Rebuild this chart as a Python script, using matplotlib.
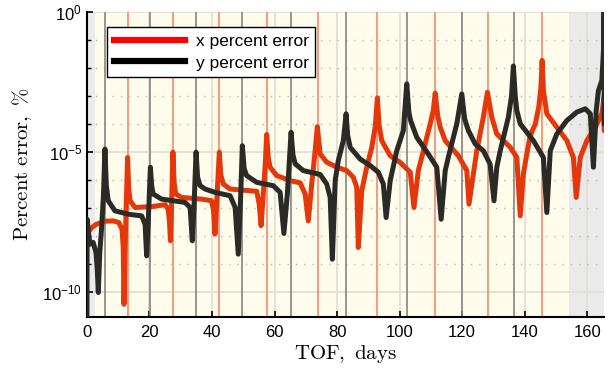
import numpy as np
import matplotlib.pyplot as plt
from matplotlib.lines import Line2D
from matplotlib.ticker import FixedLocator, LogFormatterSciNotation

plt.rcParams['font.family'] = ['Liberation Sans', 'DejaVu Sans']

# x percent error: TOF in days, log10 of the error
x_err_t = [0.2, 1.5, 3.0, 5.8, 8.5, 10.2, 11.2, 11.6, 11.85, 12.15, 12.6, 13.0, 13.35,
           13.8, 15.4, 20.7, 25.0, 26.0, 26.4, 26.7, 27.0, 27.5, 27.9, 28.4, 30.3, 36.7,
           39.9, 40.5, 40.96, 41.4, 42.35, 42.8, 43.6, 45.8, 50.0, 54.3, 55.1, 55.7,
           56.4, 57.0, 57.5, 58.0, 58.6, 60.7, 65.0, 68.2, 69.8, 70.8, 71.9, 73.0, 73.7,
           74.6, 76.7, 79.9, 83.1, 85.2, 86.3, 86.8, 87.9, 89.5, 91.1, 92.2, 92.9, 93.4,
           94.3, 97.0, 100.2, 103.4, 104.6, 106.0, 107.1, 109.8, 110.8, 111.4, 112.2,
           113.0, 114.6, 118.8, 121.5, 122.2, 123.6, 124.7, 126.8, 128.1, 128.8, 129.5,
           131.1, 135.4, 137.5, 138.6, 139.6, 140.7, 141.8, 143.4, 144.5, 145.2, 145.6,
           146.0, 147.1, 150.3, 153.5, 155.6, 156.5, 157.8, 159.9, 162.6, 164.7, 165.4,
           165.45]
x_err_log = [-7.9, -7.7, -7.58, -7.47, -7.46, -7.52, -7.75, -8.4, -10.44, -8.6, -6.8,
             -5.19, -6.3, -6.74, -6.98, -6.95, -6.88, -7.05, -7.5, -8.17, -7.2, -5.0,
             -6.1, -6.5, -6.62, -6.68, -6.74, -7.1, -7.93, -7.0, -5.0, -5.8, -6.14,
             -6.32, -6.36, -6.4, -6.86, -7.63, -6.5, -5.5, -4.37, -5.2, -5.54, -5.84,
             -6.02, -6.1, -6.5, -7.46, -6.14, -4.95, -4.09, -5.07, -5.36, -5.54, -5.66,
             -5.9, -6.26, -8.41, -6.38, -5.54, -4.83, -4.11, -3.06, -4.0, -4.59, -5.13,
             -5.37, -5.72, -6.98, -5.66, -5.18, -3.99, -3.5, -2.89, -3.7, -4.11, -4.59,
             -5.13, -5.66, -6.86, -5.78, -4.95, -3.75, -2.86, -3.3, -3.75, -4.35, -4.83,
             -5.19, -7.28, -5.78, -5.07, -4.4, -4.0, -3.4, -2.7, -1.72, -2.8, -3.63,
             -4.11, -4.59, -5.19, -6.62, -5.19, -4.59, -4.11, -3.63, -3.04, -4.23]

# y percent error
y_err_t = [0.0, 0.05, 0.5, 1.0, 2.0, 2.9, 3.3, 3.63, 4.1, 4.7, 5.3, 5.76, 6.2, 6.83, 8.96,
           13.2, 17.5, 18.6, 19.1, 19.6, 20.3, 20.7, 21.2, 23.9, 31.4, 33.0, 33.7, 34.3,
           34.9, 35.4, 36.2, 37.8, 41.0, 45.8, 47.4, 48.4, 49.2, 49.7, 50.3, 51.1, 54.3,
           59.6, 61.8, 63.0, 64.1, 65.3, 65.9, 66.6, 69.2, 74.6, 76.7, 77.8, 78.5, 79.4,
           80.4, 82.0, 82.9, 83.4, 84.2, 87.4, 90.6, 93.2, 94.8, 95.7, 97.0, 99.1, 101.2,
           102.3, 103.0, 103.6, 105.5, 109.2, 111.9, 113.3, 114.6, 115.6, 118.3, 119.9,
           120.8, 122.0, 124.2, 126.8, 128.96, 130.2, 131.1, 132.2, 134.8, 135.8, 136.4,
           137.0, 137.5, 138.6, 142.8, 146.0, 147.1, 148.2, 150.3, 153.5, 156.7, 159.4,
           161.0, 162.0, 162.9, 163.6, 164.7, 165.3, 165.4, 165.45]
y_err_log = [-10.88, -7.4, -7.9, -8.29, -8.23, -8.6, -9.2, -10.02, -8.6, -7.69, -6.5,
             -4.89, -6.2, -6.74, -7.1, -7.22, -7.28, -7.58, -8.71, -7.5, -5.54, -6.2,
             -6.5, -6.68, -6.8, -6.98, -8.17, -6.8, -5.0, -5.9, -6.2, -6.32, -6.44,
             -6.56, -6.98, -8.65, -6.5, -4.77, -5.6, -5.84, -6.08, -6.2, -6.44, -7.91,
             -6.5, -4.29, -5.1, -5.42, -5.66, -5.8, -6.14, -6.62, -8.83, -6.02, -5.3,
             -4.59, -3.63, -4.4, -4.83, -5.25, -5.48, -5.72, -6.14, -7.34, -6.02, -4.95,
             -4.23, -2.56, -3.6, -3.9, -4.47, -5.07, -5.54, -7.4, -5.66, -5.18, -3.99,
             -2.92, -3.8, -4.23, -4.71, -4.95, -5.43, -6.74, -5.54, -4.95, -3.75, -3.0,
             -1.92, -3.0, -3.51, -3.99, -4.59, -5.19, -7.16, -4.95, -4.35, -3.87, -3.57,
             -3.45, -3.63, -5.54, -3.51, -2.8, -2.44, -1.2, 0.05, -4.0]

# spike locations (vertical markers)
x_spikes = [13.1, 27.5, 42.2, 57.6, 73.8, 92.8, 111.4, 128.3, 145.6]
y_spikes = [5.8, 20.2, 34.9, 49.6, 65.3, 82.9, 102.4, 120.0, 136.6]

fig = plt.figure(figsize=(6.08, 3.72), dpi=100)
ax = fig.add_axes([0.143, 0.149, 0.851, 0.818])

ax.axvspan(0, 2.6, color='#ebebeb', zorder=0, lw=0)
ax.axvspan(2.6, 154.3, color='#fffcec', zorder=0, lw=0)
ax.axvspan(154.3, 166, color='#eaeaea', zorder=0, lw=0)

for t in x_spikes:
    ax.axvline(t, color='#f28a6e', lw=1.2, zorder=1)
for t in y_spikes:
    ax.axvline(t, color='#858580', lw=1.2, zorder=1)

ax.plot(x_err_t, 10.0 ** np.array(x_err_log), color='#e4380c', lw=3.6,
        solid_joinstyle='round', solid_capstyle='round', zorder=3)
ax.plot(y_err_t, 10.0 ** np.array(y_err_log), color='#2a2a26', lw=3.6,
        solid_joinstyle='round', solid_capstyle='round', zorder=4)

ax.set_yscale('log')
ax.set_xlim(0, 165.5)
ax.set_ylim(10 ** -10.88, 1)

ax.xaxis.set_major_locator(FixedLocator(np.arange(0, 161, 20)))
ax.yaxis.set_major_locator(FixedLocator([1e-10, 1e-5, 1e0]))
ax.yaxis.set_minor_locator(FixedLocator([10.0 ** k for k in range(-10, 1)]))
ax.yaxis.set_major_formatter(LogFormatterSciNotation())
ax.yaxis.set_minor_formatter(plt.NullFormatter())

ax.grid(axis='x', which='major', color='#e2e0d6', lw=1.3, zorder=0.5)
ax.grid(axis='y', which='major', color='#e2e0d6', lw=1.3, zorder=0.5)
ax.grid(axis='y', which='minor', color='#b8b8b0', lw=1.0, ls=(0, (1, 5)), zorder=0.5)
ax.set_axisbelow(True)

ax.tick_params(direction='in', labelsize=12, length=4, width=1.2, colors='black')
ax.tick_params(which='minor', direction='in', length=3, width=1.0, left=True)
ax.tick_params(axis='x', pad=6)

for s in ['top', 'right']:
    ax.spines[s].set_visible(False)
for s in ['left', 'bottom']:
    ax.spines[s].set_linewidth(1.5)

ax.set_xlabel(r'$\mathrm{TOF,\ days}$', fontsize=15, math_fontfamily='cm', labelpad=2)
ax.set_ylabel(r'$\mathrm{Percent\ error,\ \%}$', fontsize=15, math_fontfamily='cm', labelpad=6)

handles = [Line2D([], [], color='#ff0000', lw=4.5),
           Line2D([], [], color='#000000', lw=4.5)]
leg = ax.legend(handles, ['x percent error', 'y percent error'], loc='upper left',
                bbox_to_anchor=(0.0387, 0.951), borderaxespad=0, fontsize=12.5,
                handlelength=4.1, fancybox=False, framealpha=1, edgecolor='black',
                borderpad=0.4, labelspacing=0.35, handletextpad=0.6)
leg.get_frame().set_linewidth(1.0)
leg.set_zorder(6)

fig.savefig('out.png', dpi=100)
